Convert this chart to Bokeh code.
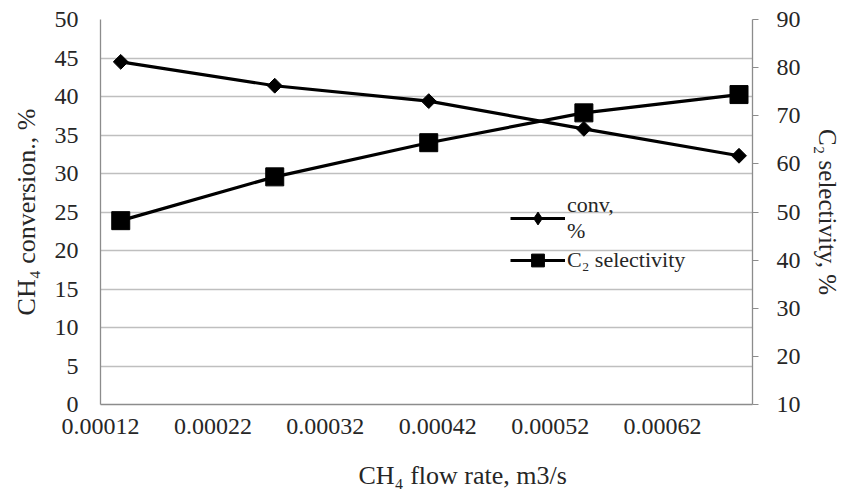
import numpy as np
from bokeh.plotting import figure
from bokeh.models import (Range1d, LinearAxis, FixedTicker, PrintfTickFormatter,
                          Legend, LegendItem, Title)
from bokeh.embed import file_html
from bokeh.resources import INLINE

# ---- data ----
flow_rate = [0.000138, 0.000275, 0.000412, 0.000550, 0.000688]   # m3/s
ch4_conversion = [44.5, 41.4, 39.4, 35.8, 32.3]                  # %
c2_selectivity = [48.2, 57.3, 64.4, 70.6, 74.4]                  # %
x_ticks = [0.00012, 0.00022, 0.00032, 0.00042, 0.00052, 0.00062]
left_ticks = [0, 5, 10, 15, 20, 25, 30, 35, 40, 45, 50]
right_ticks = [10, 20, 30, 40, 50, 60, 70, 80, 90]

FONT = "Liberation Serif"
TXT = "#262626"
AXIS_C = "#8c8c8c"
GRID_C = "#bfbfbf"

p = figure(width=843, height=495, output_backend="svg", toolbar_location=None,
           x_range=Range1d(0.00012, 0.0007), y_range=Range1d(0, 50),
           min_border_left=100, min_border_right=86, min_border_top=19,
           min_border_bottom=91)
p.extra_y_ranges = {"sel": Range1d(10, 90)}
p.outline_line_color = None
p.background_fill_color = "white"
p.border_fill_color = "white"

# grid
p.xgrid.visible = False
p.ygrid.ticker = FixedTicker(ticks=left_ticks)
p.ygrid.grid_line_color = GRID_C
p.ygrid.grid_line_width = 1.3

# x axis
xa = p.xaxis[0]
xa.ticker = FixedTicker(ticks=x_ticks)
xa.formatter = PrintfTickFormatter(format="%.5f")
xa.major_tick_out = 0
xa.major_tick_in = 0
xa.minor_tick_out = 0
xa.minor_tick_in = 0
xa.major_label_standoff = 14

# x axis title, under the tick labels and shifted right as in the reference
xtitle = Title(text="CH\u2084 flow rate, m3/s", align="left", offset=258,
               vertical_align="top", standoff=0,
               text_font=FONT, text_font_size="26px", text_font_style="normal",
               text_color=TXT)
try:
    xtitle.padding = dict(left=0, right=0, top=24, bottom=0)
except Exception:
    pass
p.add_layout(xtitle, "below")

# left y axis
ya = p.yaxis[0]
ya.ticker = FixedTicker(ticks=left_ticks)
ya.axis_label = "CH\u2084 conversion., %"
ya.major_tick_out = 0
ya.major_tick_in = 0
ya.minor_tick_out = 0
ya.minor_tick_in = 0
ya.major_label_standoff = 22
ya.axis_label_standoff = 11

# right y axis
ra = LinearAxis(y_range_name="sel", ticker=FixedTicker(ticks=right_ticks),
                axis_label="C\u2082 selectivity, %")
ra.major_tick_out = 6
ra.major_tick_in = 0
ra.minor_tick_out = 0
ra.minor_tick_in = 0
ra.major_label_standoff = 18
ra.axis_label_standoff = 10
p.add_layout(ra, "right")

for ax in (xa, ya, ra):
    ax.axis_line_color = AXIS_C
    ax.axis_line_width = 1.3
    ax.major_tick_line_color = AXIS_C
    ax.major_label_text_font = FONT
    ax.major_label_text_font_size = "24px"
    ax.major_label_text_color = TXT
    ax.axis_label_text_font = FONT
    ax.axis_label_text_font_style = "normal"
    ax.axis_label_text_color = TXT
ya.axis_label_text_font_size = "26px"
ra.axis_label_text_font_size = "25px"

# series
l1 = p.line(flow_rate, ch4_conversion, line_color="black", line_width=3.2)
# key marker for the legend (a diamond; sits fully hidden under the plotted markers)
k1 = p.scatter(flow_rate, ch4_conversion, marker="diamond", size=12,
               fill_color="black", line_color="black")
s1 = p.scatter(flow_rate, ch4_conversion, marker="square", angle=np.pi / 4,
               size=10.5, fill_color="black", line_color="black")
l2 = p.line(flow_rate, c2_selectivity, line_color="black", line_width=3.2,
            y_range_name="sel")
s2 = p.scatter(flow_rate, c2_selectivity, marker="square", size=18,
               fill_color="black", line_color="black", y_range_name="sel")

legend = Legend(items=[LegendItem(label="conv,\n%", renderers=[l1, k1]),
                       LegendItem(label="C\u2082 selectivity", renderers=[l2, s2])],
                location=(410, 128), orientation="vertical")
legend.border_line_color = None
legend.background_fill_alpha = 0
legend.padding = 0
legend.margin = 0
legend.spacing = 0
legend.glyph_width = 55
legend.glyph_height = 32
legend.label_standoff = 2
legend.label_text_font = FONT
legend.label_text_font_size = "22px"
legend.label_text_color = TXT
p.add_layout(legend)

open("out.html", "w").write(file_html(p, INLINE))
